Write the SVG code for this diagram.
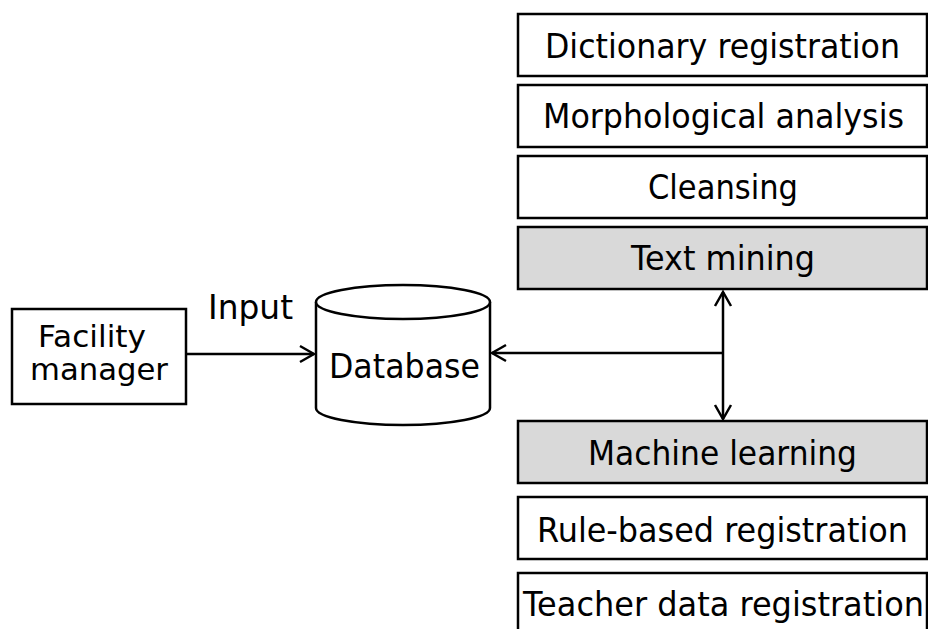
<svg xmlns="http://www.w3.org/2000/svg" width="928" height="629" viewBox="0 0 928 629">
<defs>
<style>
.box{fill:#fff;stroke:#000;stroke-width:2.5}
.grey{fill:#d9d9d9;stroke:#000;stroke-width:2.5}
.t{font-family:"DejaVu Sans","Liberation Sans",sans-serif;font-size:33px;fill:#000}
.s{font-size:30px}
.ln{stroke:#000;stroke-width:2.5;fill:none}
</style>
<marker id="ah" viewBox="0 0 20 20" refX="18" refY="10" markerWidth="20" markerHeight="20" markerUnits="userSpaceOnUse" orient="auto-start-reverse">
<path d="M4,2 L18,10 L4,18" fill="none" stroke="#000" stroke-width="2.5"/>
</marker>
</defs>
<rect width="928" height="629" fill="#fff"/>
<g id="connectors">
<line class="ln" x1="187" y1="354" x2="314" y2="354" marker-end="url(#ah)"/>
<text class="t" x="208" y="319" textLength="85" lengthAdjust="spacingAndGlyphs">Input</text>
<line class="ln" x1="723" y1="353" x2="492" y2="353" marker-end="url(#ah)"/>
<line class="ln" x1="723" y1="292" x2="723" y2="419" marker-start="url(#ah)" marker-end="url(#ah)"/>
</g>
<g id="facility">
<rect class="box" x="12" y="309" width="174" height="95"/>
<text class="t s" x="38" y="347" textLength="108" lengthAdjust="spacingAndGlyphs">Facility</text>
<text class="t s" x="30" y="380" textLength="138" lengthAdjust="spacingAndGlyphs">manager</text>
</g>
<g id="database">
<path class="box" d="M316,302 L316,408 A87,17 0 0 0 490,408 L490,302"/>
<ellipse class="box" cx="403" cy="302" rx="87" ry="17"/>
<text class="t" x="329" y="378" textLength="151" lengthAdjust="spacingAndGlyphs">Database</text>
</g>
<g id="dict">
<rect class="box" x="518" y="14" width="409" height="62"/>
<text class="t" x="545" y="58" textLength="355" lengthAdjust="spacingAndGlyphs">Dictionary registration</text>
</g>
<g id="morph">
<rect class="box" x="518" y="85" width="409" height="62"/>
<text class="t" x="543" y="128" textLength="361" lengthAdjust="spacingAndGlyphs">Morphological analysis</text>
</g>
<g id="cleansing">
<rect class="box" x="518" y="156" width="409" height="62"/>
<text class="t" x="648" y="199" textLength="150" lengthAdjust="spacingAndGlyphs">Cleansing</text>
</g>
<g id="textmining">
<rect class="grey" x="518" y="227" width="409" height="62"/>
<text class="t" x="631" y="270" textLength="184" lengthAdjust="spacingAndGlyphs">Text mining</text>
</g>
<g id="ml">
<rect class="grey" x="518" y="421" width="409" height="62"/>
<text class="t" x="588" y="465" textLength="269" lengthAdjust="spacingAndGlyphs">Machine learning</text>
</g>
<g id="rule">
<rect class="box" x="518" y="497" width="409" height="62"/>
<text class="t" x="537" y="542" textLength="371" lengthAdjust="spacingAndGlyphs">Rule-based registration</text>
</g>
<g id="teacher">
<rect class="box" x="518" y="573" width="409" height="70"/>
<text class="t" x="523" y="616" textLength="401" lengthAdjust="spacingAndGlyphs">Teacher data registration</text>
</g>
</svg>
